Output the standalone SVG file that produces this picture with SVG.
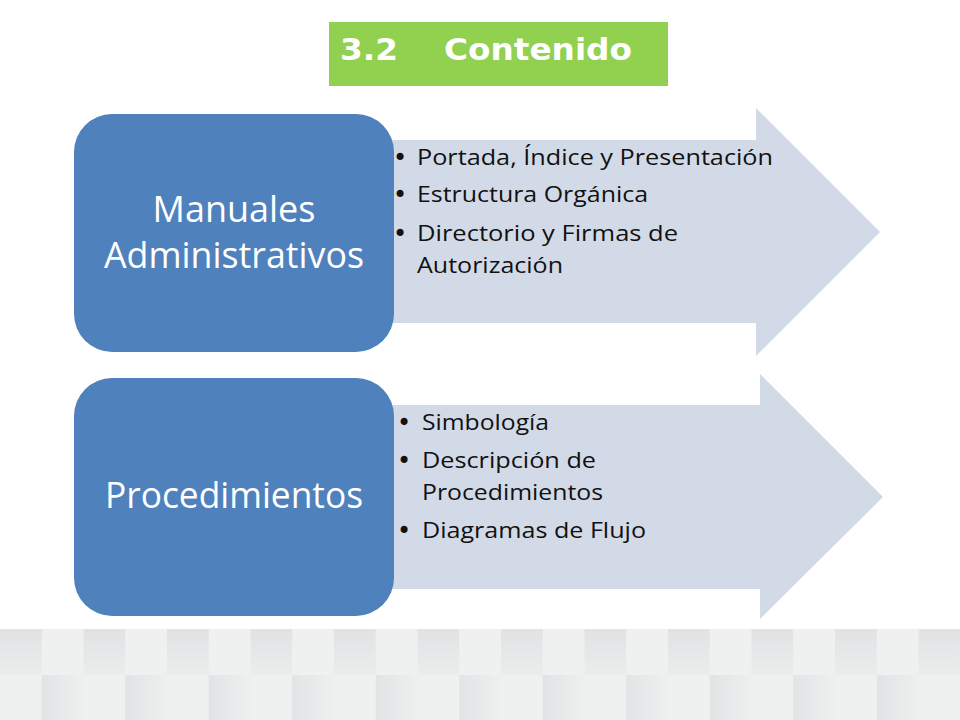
<svg xmlns="http://www.w3.org/2000/svg" width="960" height="720" viewBox="0 0 960 720">
<defs>
<style>
.box{fill:#4F81BD;}
.arr{fill:#D3DAE7;}
.lbl{font-family:"Open Sans","Noto Sans","DejaVu Sans",sans-serif;fill:#ffffff;font-size:36px;text-anchor:middle;}
.itm{font-family:"Open Sans","Noto Sans","DejaVu Sans",sans-serif;fill:#111111;font-size:22px;}
.bul{font-family:"DejaVu Sans",sans-serif;fill:#111111;font-size:24px;}
.ttl{font-family:"DejaVu Sans","Verdana",sans-serif;font-weight:bold;fill:#ffffff;font-size:31px;}
</style>
<linearGradient id="gTop" x1="0" y1="0" x2="0" y2="1">
<stop offset="0" stop-color="#e1e2e4"/><stop offset="1" stop-color="#ebecec"/>
</linearGradient>
<linearGradient id="gBot" x1="0" y1="0" x2="1" y2="0">
<stop offset="0" stop-color="#e2e3e5"/><stop offset="1" stop-color="#eeefef"/>
</linearGradient>
<pattern id="band" x="0" y="629" width="83.5" height="91" patternUnits="userSpaceOnUse">
<rect x="0" y="0" width="83.5" height="91" fill="#eff0f0"/>
<rect x="0" y="0" width="41.7" height="46" fill="url(#gTop)"/>
<rect x="41.7" y="46" width="41.8" height="45" fill="url(#gBot)"/>
</pattern>
</defs>
<rect x="0" y="0" width="960" height="720" fill="#ffffff"/>
<rect x="0" y="629" width="960" height="91" fill="url(#band)"/>

<g id="title">
<rect x="329" y="22" width="339" height="64" fill="#92D050"/>
<text class="ttl" x="340" y="60" textLength="58" lengthAdjust="spacingAndGlyphs">3.2</text>
<text class="ttl" x="444" y="60" textLength="188" lengthAdjust="spacingAndGlyphs">Contenido</text>
</g>

<g id="connectors"></g>

<g id="arrow1">
<polygon class="arr" points="380,140 756,140 756,108 880,232 756,356 756,323 380,323"/>
<g class="bul">
<text x="393" y="166">•</text>
<text x="393" y="203">•</text>
<text x="393" y="242">•</text>
</g>
<g class="itm">
<text x="417" y="165" textLength="356" lengthAdjust="spacingAndGlyphs">Portada, Índice y Presentación</text>
<text x="417" y="202" textLength="231" lengthAdjust="spacingAndGlyphs">Estructura Orgánica</text>
<text x="417" y="241" textLength="261" lengthAdjust="spacingAndGlyphs">Directorio y Firmas de</text>
<text x="417" y="273" textLength="146" lengthAdjust="spacingAndGlyphs">Autorización</text>
</g>
</g>
<g id="node1">
<rect class="box" x="74" y="114" width="320" height="238" rx="38" ry="38"/>
<text class="lbl" x="234" y="222" textLength="163" lengthAdjust="spacingAndGlyphs">Manuales</text>
<text class="lbl" x="234" y="268" textLength="260" lengthAdjust="spacingAndGlyphs">Administrativos</text>
</g>

<g id="arrow2">
<polygon class="arr" points="380,405 760,405 760,374 883,497 760,619 760,589 380,589"/>
<g class="bul">
<text x="397" y="431">•</text>
<text x="397" y="469">•</text>
<text x="397" y="539">•</text>
</g>
<g class="itm">
<text x="422" y="430" textLength="127" lengthAdjust="spacingAndGlyphs">Simbología</text>
<text x="422" y="468" textLength="174" lengthAdjust="spacingAndGlyphs">Descripción de</text>
<text x="422" y="500" textLength="181" lengthAdjust="spacingAndGlyphs">Procedimientos</text>
<text x="422" y="538" textLength="224" lengthAdjust="spacingAndGlyphs">Diagramas de Flujo</text>
</g>
</g>
<g id="node2">
<rect class="box" x="74" y="378" width="320" height="238" rx="38" ry="38"/>
<text class="lbl" x="234" y="508" textLength="258" lengthAdjust="spacingAndGlyphs">Procedimientos</text>
</g>
</svg>
